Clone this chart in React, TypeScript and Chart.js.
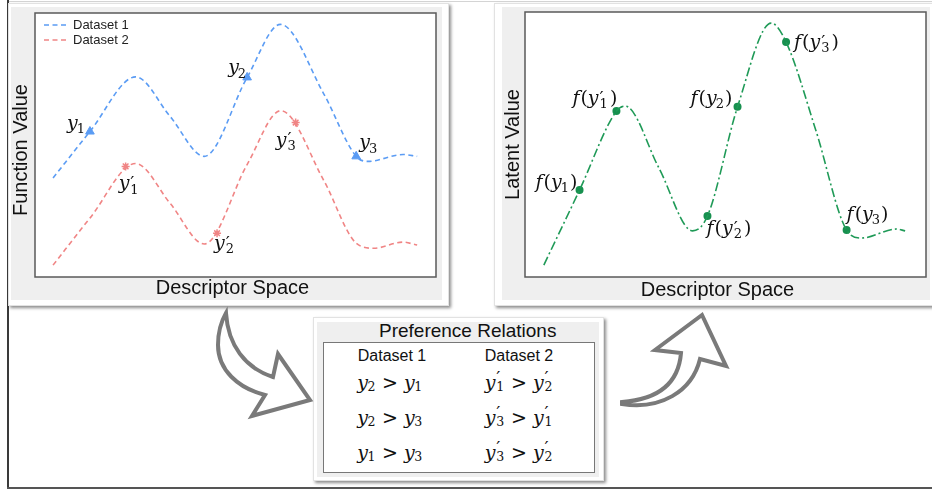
import React, { useEffect, useRef } from 'react';
import { Chart, registerables } from 'chart.js';

Chart.register(...registerables);

// ---------------- data ----------------
// Left chart: "Function Value" over "Descriptor Space"
const dataset1X = [0.45, 1.37, 2.51, 3.37, 4.22, 5.29, 6.12, 7.2, 8.01, 8.31, 9.18, 9.53];
const dataset1Y = [3.75, 5.51, 7.58, 6.08, 4.57, 7.56, 9.57, 6.94, 4.57, 4.38, 4.64, 4.57];
const dataset2X = [0.45, 1.37, 2.51, 3.37, 4.22, 5.29, 6.13, 7.2, 8.01, 8.45, 9.18, 9.53];
const dataset2Y = [0.45, 2.23, 4.3, 2.79, 1.25, 4.26, 6.3, 3.66, 1.28, 1.09, 1.32, 1.21];

const samples1X = [1.37, 5.29, 8.01];
const samples1Y = [5.51, 7.56, 4.57];
const samples1Sub = ['1', '2', '3'];
const samples2X = [2.26, 4.54, 6.5];
const samples2Y = [4.19, 1.66, 5.85];
const samples2Sub = ['1', '2', '3'];

// Right chart: "Latent Value" over "Descriptor Space"
const latentX = [0.47, 1.36, 2.28, 2.5, 3.34, 4.18, 4.55, 5.3, 6.14, 6.51, 7.25, 8.02, 8.39, 9.26, 9.48];
const latentY = [0.45, 3.28, 6.26, 6.45, 4.11, 1.74, 2.3, 6.42, 9.58, 8.87, 5.55, 1.77, 1.47, 1.81, 1.74];
const latentSampleX = [1.36, 2.28, 4.55, 5.3, 6.51, 8.02];
const latentSampleY = [3.28, 6.26, 2.3, 6.42, 8.87, 1.77];
const latentSampleSub = ['1', '1', '2', '2', '3', '3'];
const latentSamplePrime = [false, true, true, false, true, false];

// Preference relations table (subscripts of left > right)
const prefDataset1: [string, string][] = [['2', '1'], ['2', '3'], ['1', '3']];
const prefDataset2: [string, string][] = [['1', '2'], ['3', '1'], ['3', '2']];

const seriesLabels = ['Dataset 1', 'Dataset 2'];

// ---------------- styles ----------------
const BLUE = '#5b9cf4';
const RED = '#f08585';
const GREEN = '#1f9a57';
const GREEN_DOT = '#17904f';
const SANS = '"Liberation Sans", Arial, sans-serif';
const MATH = '"DejaVu Serif", serif';
const PRIME_FONT = '"DejaVu Sans", sans-serif';

// label offsets (left edge, baseline) relative to marker, in px
const samples1Off = [[-23, -3], [-19, -4], [3, -8]];
const samples2Off = [[-7, 23], [-3, 16], [-20, 23]];
const latentOff = [[-44, -2], [-44, -7], [-1, 18], [-47, -3], [8, 6], [0, -10]];

const xy = (xs: number[], ys: number[]) => xs.map((x, i) => ({ x, y: ys[i] }));

function drawSym(ctx: CanvasRenderingContext2D, x: number, base: number, sub: string, prime: boolean, fn: boolean, size: number) {
  let cx = x;
  const it = `italic ${size}px ${MATH}`;
  const up = `${size}px ${MATH}`;
  const small = `${Math.round(size * 0.66)}px ${MATH}`;
  const primeFont = `${Math.round(size * 0.95)}px ${PRIME_FONT}`;
  ctx.textAlign = 'left';
  ctx.textBaseline = 'alphabetic';
  ctx.fillStyle = '#111';
  if (fn) {
    ctx.font = it;
    ctx.fillText('f', cx, base);
    cx += ctx.measureText('f').width + 1;
    ctx.font = up;
    ctx.fillText('(', cx, base);
    cx += ctx.measureText('(').width;
  }
  ctx.font = it;
  ctx.fillText('y', cx, base);
  cx += ctx.measureText('y').width;
  if (prime) {
    ctx.font = primeFont;
    ctx.fillText('\u2032', cx + 1, base - size * 0.02);
  }
  ctx.font = small;
  ctx.fillText(sub, cx + (prime ? 1 : -1), base + size * 0.22);
  cx += ctx.measureText(sub).width + (prime ? 2 : -1);
  if (fn) {
    ctx.font = up;
    ctx.fillText(')', cx + 1, base);
  }
}

function framePlugin(opts: {
  yTitle: string;
  yTitleDx: number;
  yTitleDy: number;
  xTitleDx: number;
  xTitleDy: number;
  legend: boolean;
  labels: { ds: number; subs: string[]; primes: boolean[]; offs: number[][]; fn: boolean }[];
}) {
  return {
    id: 'frame',
    beforeDraw(chart: any) {
      const a = chart.chartArea;
      const ctx = chart.ctx;
      ctx.save();
      ctx.fillStyle = '#ffffff';
      ctx.fillRect(a.left, a.top, a.right - a.left, a.bottom - a.top);
      ctx.restore();
    },
    afterDraw(chart: any) {
      const a = chart.chartArea;
      const ctx: CanvasRenderingContext2D = chart.ctx;
      ctx.save();
      ctx.strokeStyle = '#5a5a5a';
      ctx.lineWidth = 1.5;
      ctx.strokeRect(a.left, a.top, a.right - a.left, a.bottom - a.top);
      // axis titles
      ctx.fillStyle = '#111';
      ctx.font = `20px ${SANS}`;
      ctx.textAlign = 'center';
      ctx.textBaseline = 'middle';
      ctx.fillText('Descriptor Space', (a.left + a.right) / 2 + opts.xTitleDx, a.bottom + opts.xTitleDy);
      ctx.save();
      ctx.translate(a.left + opts.yTitleDx, (a.top + a.bottom) / 2 + opts.yTitleDy);
      ctx.rotate(-Math.PI / 2);
      ctx.fillText(opts.yTitle, 0, 0);
      ctx.restore();
      // legend
      if (opts.legend) {
        [0, 1].forEach((i) => {
          const ds = chart.data.datasets[i];
          const yy = a.top + 12 + i * 15;
          ctx.save();
          ctx.strokeStyle = ds.borderColor;
          ctx.lineWidth = 1.5;
          ctx.setLineDash(ds.borderDash || []);
          ctx.beginPath();
          ctx.moveTo(a.left + 9, yy);
          ctx.lineTo(a.left + 31, yy);
          ctx.stroke();
          ctx.restore();
          ctx.fillStyle = '#222';
          ctx.font = `13px ${SANS}`;
          ctx.textAlign = 'left';
          ctx.textBaseline = 'middle';
          ctx.fillText(ds.label, a.left + 38, yy + 0.5);
        });
      }
      // math labels
      opts.labels.forEach((l) => {
        const meta = chart.getDatasetMeta(l.ds);
        meta.data.forEach((el: any, i: number) => {
          const [dx, dy] = l.offs[i];
          drawSym(ctx, el.x + dx, el.y + dy, l.subs[i], l.primes[i], l.fn, 19);
        });
      });
      ctx.restore();
    },
  };
}

const LeftChart = () => {
  const ref = useRef<HTMLCanvasElement>(null);
  useEffect(() => {
    const chart = new Chart(ref.current!, {
      type: 'line',
      data: {
        datasets: [
          {
            label: seriesLabels[0],
            data: xy(dataset1X, dataset1Y),
            borderColor: BLUE,
            borderWidth: 1.6,
            borderDash: [5, 3.5],
            pointRadius: 0,
            cubicInterpolationMode: 'monotone',
            fill: false,
          },
          {
            label: seriesLabels[1],
            data: xy(dataset2X, dataset2Y),
            borderColor: RED,
            borderWidth: 1.6,
            borderDash: [5, 3.5],
            pointRadius: 0,
            cubicInterpolationMode: 'monotone',
            fill: false,
          },
          {
            label: 'samples 1',
            data: xy(samples1X, samples1Y),
            showLine: false,
            pointStyle: 'triangle',
            pointRadius: 5,
            backgroundColor: BLUE,
            borderColor: BLUE,
            borderWidth: 1,
          },
          {
            label: 'samples 2',
            data: xy(samples2X, samples2Y),
            showLine: false,
            pointStyle: 'star',
            pointRadius: 4,
            backgroundColor: RED,
            borderColor: RED,
            borderWidth: 1.5,
          },
        ],
      } as any,
      options: {
        animation: false,
        responsive: false,
        devicePixelRatio: 1,
        layout: { padding: { left: 24, top: 5, right: 4, bottom: 23 } },
        scales: {
          x: { type: 'linear', min: 0, max: 10, display: false },
          y: { type: 'linear', min: 0, max: 10, display: false },
        },
        plugins: { legend: { display: false }, tooltip: { enabled: false } },
      },
      plugins: [
        framePlugin({
          yTitle: 'Function Value',
          yTitleDx: -14,
          yTitleDy: 5,
          xTitleDx: -3,
          xTitleDy: 11,
          legend: true,
          labels: [
            { ds: 2, subs: samples1Sub, primes: [false, false, false], offs: samples1Off, fn: false },
            { ds: 3, subs: samples2Sub, primes: [true, true, true], offs: samples2Off, fn: false },
          ],
        }) as any,
      ],
    });
    return () => chart.destroy();
  }, []);
  return <canvas ref={ref} width={431} height={293} style={{ position: 'absolute', left: 11, top: 7, background: '#efefef' }} />;
};

const RightChart = () => {
  const ref = useRef<HTMLCanvasElement>(null);
  useEffect(() => {
    const chart = new Chart(ref.current!, {
      type: 'line',
      data: {
        datasets: [
          {
            label: 'Latent',
            data: xy(latentX, latentY),
            borderColor: GREEN,
            borderWidth: 1.6,
            borderDash: [9, 3, 2, 3],
            pointRadius: 0,
            cubicInterpolationMode: 'monotone',
            fill: false,
          },
          {
            label: 'Latent samples',
            data: xy(latentSampleX, latentSampleY),
            showLine: false,
            pointStyle: 'circle',
            pointRadius: 4,
            backgroundColor: GREEN_DOT,
            borderColor: GREEN_DOT,
            borderWidth: 0,
          },
        ],
      } as any,
      options: {
        animation: false,
        responsive: false,
        devicePixelRatio: 1,
        layout: { padding: { left: 23, top: 5, right: 1, bottom: 23 } },
        scales: {
          x: { type: 'linear', min: 0, max: 10, display: false },
          y: { type: 'linear', min: 0, max: 10, display: false },
        },
        plugins: { legend: { display: false }, tooltip: { enabled: false } },
      },
      plugins: [
        framePlugin({
          yTitle: 'Latent Value',
          yTitleDx: -12,
          yTitleDy: 0,
          xTitleDx: -8,
          xTitleDy: 13,
          legend: false,
          labels: [{ ds: 1, subs: latentSampleSub, primes: latentSamplePrime, offs: latentOff, fn: true }],
        }) as any,
      ],
    });
    return () => chart.destroy();
  }, []);
  return <canvas ref={ref} width={428} height={293} style={{ position: 'absolute', left: 502, top: 7, background: '#efefef' }} />;
};

const Sym = ({ sub, prime }: { sub: string; prime: boolean }) => (
  <span style={{ whiteSpace: 'nowrap' }}>
    <span style={{ fontStyle: 'italic' }}>y</span>
    <span style={{ display: 'inline-block', position: 'relative', width: prime ? '0.5em' : '0.42em', height: '1em' }}>
      {prime && (
        <span
          style={{
            position: 'absolute',
            left: '0.04em',
            top: '-0.12em',
            fontSize: '0.95em',
            lineHeight: '1.2em',
            fontFamily: PRIME_FONT,
          }}
        >
          {'\u2032'}
        </span>
      )}
      <span style={{ position: 'absolute', left: prime ? '0.06em' : '-0.04em', top: '0.55em', fontSize: '0.66em' }}>{sub}</span>
    </span>
  </span>
);

const cardStyle: React.CSSProperties = {
  position: 'absolute',
  background: '#fff',
  border: '1px solid #e2e2e2',
  boxShadow: '2px 2px 3px rgba(0,0,0,0.45)',
  boxSizing: 'border-box',
};

const Arrows = () => (
  <svg width={932} height={490} style={{ position: 'absolute', left: 0, top: 0 }}>
    <path
      d="M226,313 C228,345 245,368 273,377 L278,354 L310,400 L252,416 L265,395 C238,388 218,370 218,345 C218,330 222,320 226,313 Z"
      fill="#fff"
      stroke="#7a7a7a"
      strokeWidth={4}
      strokeLinejoin="miter"
    />
    <path
      d="M622,402 C650,400 678,390 681,353 L655,350 L702,315 L726,366 L700,359 C692,392 660,410 622,404 Z"
      fill="#fff"
      stroke="#7a7a7a"
      strokeWidth={4}
      strokeLinejoin="miter"
    />
  </svg>
);

const cell = (cx: number, cy: number, content: React.ReactNode, font: string, size: number, key: string) => (
  <div
    key={key}
    style={{
      position: 'absolute',
      left: cx - 80,
      width: 160,
      top: cy - size * 0.6,
      height: size * 1.2,
      lineHeight: `${size * 1.2}px`,
      textAlign: 'center',
      fontFamily: font,
      fontSize: size,
      color: '#111',
      whiteSpace: 'nowrap',
    }}
  >
    {content}
  </div>
);

export default function App() {
  const rowsY = [381, 416, 451];
  return (
    <div style={{ position: 'absolute', left: 0, top: 0, width: 932, height: 490, background: '#fff', overflow: 'hidden' }}>
      {/* outer frame */}
      <div style={{ position: 'absolute', left: 7, top: 1, width: 925, height: 1, background: '#d4d4d4' }} />
      <div style={{ position: 'absolute', left: 7, top: 0, width: 1.5, height: 489, background: '#3a3a3a' }} />
      <div style={{ position: 'absolute', left: 7, top: 487, width: 925, height: 1.5, background: '#555' }} />

      {/* cards */}
      <div style={{ ...cardStyle, left: 8, top: 3, width: 441, height: 303 }} />
      <div style={{ ...cardStyle, left: 494, top: 3, width: 446, height: 303 }} />
      <LeftChart />
      <RightChart />

      {/* preference relations box */}
      <div style={{ ...cardStyle, left: 313, top: 317, width: 291, height: 164 }} />
      <div style={{ position: 'absolute', left: 317, top: 322, width: 282, height: 155, background: '#efefef' }} />
      <div
        style={{
          position: 'absolute',
          left: 323,
          top: 342,
          width: 272,
          height: 131,
          background: '#fff',
          border: '1.5px solid #777',
          boxSizing: 'border-box',
        }}
      />
      {cell(459, 331, 'Preference Relations', SANS, 19, 'title')}
      {cell(392, 356, seriesLabels[0], SANS, 16, 'h1')}
      {cell(519, 356, seriesLabels[1], SANS, 16, 'h2')}
      {prefDataset1.map(([a, b], i) =>
        cell(
          390,
          rowsY[i],
          <span>
            <Sym sub={a} prime={false} /> &gt; <Sym sub={b} prime={false} />
          </span>,
          MATH,
          19,
          'l' + i
        )
      )}
      {prefDataset2.map(([a, b], i) =>
        cell(
          519,
          rowsY[i],
          <span>
            <Sym sub={a} prime={true} /> &gt; <Sym sub={b} prime={true} />
          </span>,
          MATH,
          19,
          'r' + i
        )
      )}
      <Arrows />
    </div>
  );
}
